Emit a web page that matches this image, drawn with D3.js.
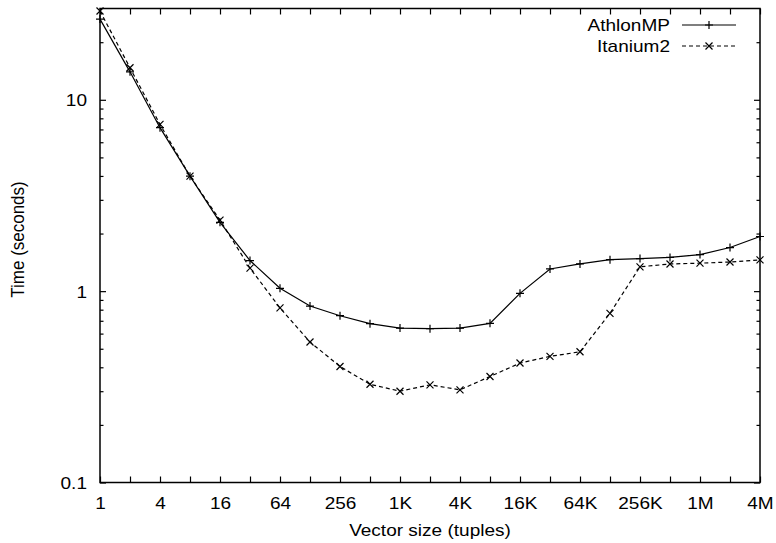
<!DOCTYPE html>
<html>
<head>
<meta charset="utf-8">
<script src="https://cdn.jsdelivr.net/npm/d3@7"></script>
<style>
  body { margin: 0; background: #fff; }
  svg text { font-family: "Liberation Sans", Arial, Helvetica, sans-serif; font-size: 17px; fill: #000; }
</style>
</head>
<body>
<div id="chart"></div>
<script>
// vector sizes 2^0 .. 2^22
const sizes = d3.range(23).map(i => Math.pow(2, i))
const xTickLabels = ["1", "4", "16", "64", "256", "1K", "4K", "16K", "64K", "256K", "1M", "4M"]
const athlonMP = [26.4, 14.0, 7.15, 3.99, 2.29, 1.445, 1.035, 0.836, 0.744, 0.676, 0.641, 0.637,
    0.641, 0.679, 0.974, 1.306, 1.387, 1.46, 1.48, 1.50, 1.553, 1.69, 1.93]
const itanium2 = [29.1, 14.7, 7.44, 3.99, 2.35, 1.32, 0.817, 0.542, 0.404, 0.326, 0.300, 0.324,
    0.305, 0.358, 0.421, 0.456, 0.482, 0.766, 1.34, 1.387, 1.40, 1.42, 1.456]
const yMajor = [0.1, 1, 10]
const yMinor = [0.2, 0.3, 0.4, 0.5, 0.6, 0.7, 0.8, 0.9, 2, 3, 4, 5, 6, 7, 8, 9, 20]

const width = 776, height = 543
const margin = ({top: 8.5, right: 16, bottom: 60.5, left: 100})
const sx = 1.12 // horizontal stretch of the original lettering

const svg = d3.select("#chart").append("svg")
    .attr("width", width)
    .attr("height", height)

const xScale = d3.scaleLog().base(2)
    .domain([1, sizes[sizes.length - 1]])
    .range([margin.left, width - margin.right])
const yScale = d3.scaleLog()
    .domain([0.1, 30])
    .range([height - margin.bottom, margin.top])

const x0 = xScale.range()[0], x1 = xScale.range()[1]
const y0 = yScale.range()[0], y1 = yScale.range()[1]

function styleAxis(g) {
    g.select(".domain").remove()
    g.selectAll("line").attr("stroke", "#000").attr("stroke-width", 1.2)
}

// bottom axis with labels on every second tick
svg.append("g")
    .attr("class", "x axis")
    .attr("transform", `translate(0,${y0})`)
    .call(d3.axisBottom(xScale).tickValues(sizes).tickSize(-6)
        .tickFormat((d, i) => i % 2 === 0 ? xTickLabels[i / 2] : ""))
    .call(styleAxis)
    .call(g => g.selectAll("text")
        .attr("y", null).attr("dy", null)
        .attr("font-size", null).attr("font-family", null)
        .attr("transform", `translate(0,26) scale(${sx},1)`))

// top mirrored ticks
svg.append("g")
    .attr("transform", `translate(0,${y1})`)
    .call(d3.axisTop(xScale).tickValues(sizes).tickSize(-6).tickFormat(""))
    .call(styleAxis)

// left axis
svg.append("g")
    .attr("class", "y axis")
    .attr("transform", `translate(${x0},0)`)
    .call(d3.axisLeft(yScale).tickValues(yMajor).tickSize(-6).tickFormat(d3.format("")))
    .call(styleAxis)
    .call(g => g.selectAll("text")
        .attr("x", null).attr("dy", "0.35em")
        .attr("font-size", null).attr("font-family", null)
        .attr("transform", `translate(-13,0) scale(${sx},1)`))
svg.append("g")
    .attr("transform", `translate(${x0},0)`)
    .call(d3.axisLeft(yScale).tickValues(yMinor).tickSize(-3.5).tickFormat(""))
    .call(styleAxis)

// right mirrored ticks
svg.append("g")
    .attr("transform", `translate(${x1},0)`)
    .call(d3.axisRight(yScale).tickValues(yMajor).tickSize(-6).tickFormat(""))
    .call(styleAxis)
svg.append("g")
    .attr("transform", `translate(${x1},0)`)
    .call(d3.axisRight(yScale).tickValues(yMinor).tickSize(-3.5).tickFormat(""))
    .call(styleAxis)

// frame
svg.append("rect")
    .attr("x", x0).attr("y", y1)
    .attr("width", x1 - x0).attr("height", y0 - y1)
    .attr("fill", "none")
    .attr("stroke", "#000")
    .attr("stroke-width", 1.5)

// axis titles
svg.append("text")
    .attr("text-anchor", "middle")
    .attr("transform", `translate(${(x0 + x1) / 2},536) scale(${sx},1)`)
    .text("Vector size (tuples)")
svg.append("text")
    .attr("text-anchor", "middle")
    .attr("transform", `translate(24,${(y0 + y1) / 2 - 6}) scale(${sx},1) rotate(-90)`)
    .text("Time (seconds)")

const plusPath = "M-4,0H4M0,-4V4"
const crossPath = "M-3.5,-3.5L3.5,3.5M-3.5,3.5L3.5,-3.5"

const series = [
    {name: "AthlonMP", values: athlonMP, dash: null, marker: plusPath},
    {name: "Itanium2", values: itanium2, dash: "4,3", marker: crossPath},
]

const line = d3.line()
    .x(d => xScale(d.size))
    .y(d => yScale(d.value))

series.forEach((s, k) => {
    const data = sizes.map((size, i) => ({size, value: s.values[i]}))
    svg.append("path")
        .datum(data)
        .attr("fill", "none")
        .attr("stroke", "#000")
        .attr("stroke-width", 1.2)
        .attr("stroke-dasharray", s.dash)
        .attr("d", line)
    svg.append("g").selectAll("path")
        .data(data)
        .join("path")
        .attr("transform", d => `translate(${xScale(d.size)},${yScale(d.value)})`)
        .attr("d", s.marker)
        .attr("stroke", "#000")
        .attr("stroke-width", 1.2)

    // key entry
    const ky = 25 + k * 21
    svg.append("text")
        .attr("text-anchor", "end")
        .attr("transform", `translate(670,${ky + 5.5}) scale(${sx},1)`)
        .text(s.name)
    svg.append("line")
        .attr("x1", 682).attr("x2", 736)
        .attr("y1", ky).attr("y2", ky)
        .attr("stroke", "#000")
        .attr("stroke-width", 1.2)
        .attr("stroke-dasharray", s.dash)
    svg.append("path")
        .attr("transform", `translate(709,${ky})`)
        .attr("d", s.marker)
        .attr("stroke", "#000")
        .attr("stroke-width", 1.2)
})
</script>
</body>
</html>
